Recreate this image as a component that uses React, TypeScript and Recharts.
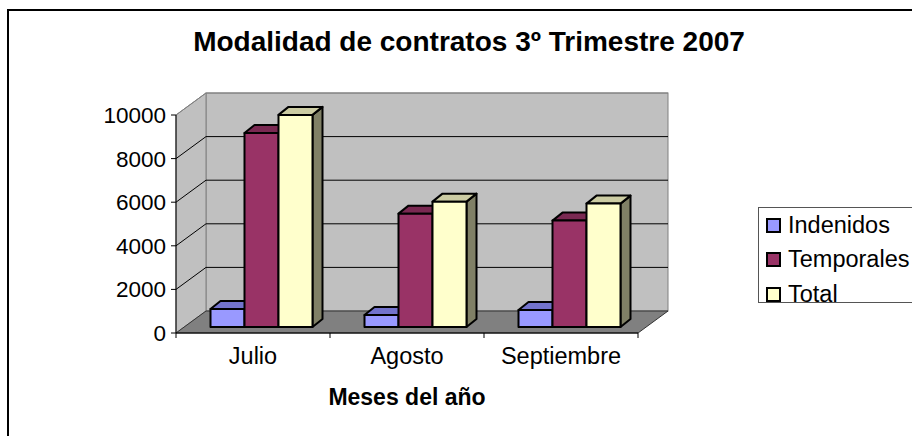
import React from 'react';
import { BarChart, Bar, XAxis, YAxis, CartesianGrid } from 'recharts';

const months = ['Julio', 'Agosto', 'Septiembre'];
const indenidos = [830, 550, 780];
const temporales = [8900, 5200, 4880];
const total = [9730, 5750, 5660];

const seriesKeys = ['indenidos', 'temporales', 'total'];
const seriesNames = ['Indenidos', 'Temporales', 'Total'];
const frontColors = ['#9999FF', '#993366', '#FFFFCC'];
const topColors = ['#7373CC', '#7A2952', '#CCCCA3'];
const sideColors = ['#5C5C99', '#5C1F3D', '#808066'];
const yTicks = [0, 2000, 4000, 6000, 8000, 10000];

const data = months.map((m, i) => ({
  month: m,
  indenidos: indenidos[i],
  temporales: temporales[i],
  total: total[i],
}));

const W = 912;
const H = 436;
// front plane of the plot
const LEFT = 176;
const RIGHT = 638;
const TOP = 115;
const BOTTOM = 333;
// wall depth (oblique projection)
const DX = 30;
const DY = 22;
// bar row sits a bit behind the front plane
const BAR_OX = 8.5;
const BAR_OY = 6;
// bar depth
const BDX = 10;
const BDY = 8;
const FONT = 'Arial, "Liberation Sans", sans-serif';

const Bar3D = (idx: number) => (p: any) => {
  const { x, y, width, height } = p;
  if (height == null || width == null) return <g />;
  const fx = x + BAR_OX;
  const fy = y - BAR_OY;
  const top = `${fx},${fy} ${fx + BDX},${fy - BDY} ${fx + width + BDX},${fy - BDY} ${fx + width},${fy}`;
  const side = `${fx + width},${fy} ${fx + width + BDX},${fy - BDY} ${fx + width + BDX},${fy + height - BDY} ${fx + width},${fy + height}`;
  return (
    <g stroke="#000" strokeWidth={2} strokeLinejoin="round">
      <polygon points={side} fill={sideColors[idx]} />
      <polygon points={top} fill={topColors[idx]} />
      <rect x={fx} y={fy} width={width} height={height} fill={frontColors[idx]} />
    </g>
  );
};

const gridLine = (p: any) => {
  const { x1, x2, y1, index } = p;
  if (Math.abs(y1 - BOTTOM) < 1) return <g key={`g${index}`} />;
  const stroke = Math.abs(y1 - TOP) < 1 ? '#808080' : '#000';
  return (
    <g key={`g${index}`} stroke={stroke} strokeWidth={1}>
      <line x1={x1} y1={y1} x2={x1 + DX} y2={y1 - DY} />
      <line x1={x1 + DX} y1={y1 - DY} x2={x2 + DX} y2={y1 - DY} />
    </g>
  );
};

const MonthTick = (p: any) => {
  const { x, payload, index } = p;
  const band = (RIGHT - LEFT) / months.length;
  return (
    <g>
      <line x1={x - band / 2} y1={BOTTOM} x2={x - band / 2} y2={BOTTOM + 5} stroke="#000" />
      {index === months.length - 1 && (
        <line x1={x + band / 2} y1={BOTTOM} x2={x + band / 2} y2={BOTTOM + 5} stroke="#000" />
      )}
      <text x={x} y={BOTTOM + 31} textAnchor="middle" fontSize={23.5} fontFamily={FONT} fill="#000">
        {payload.value}
      </text>
    </g>
  );
};

export default function App() {
  return (
    <div style={{ position: 'absolute', left: 0, top: 0, width: W, height: H, background: '#fff', overflow: 'hidden' }}>
      <svg width={W} height={H} style={{ position: 'absolute', left: 0, top: 0 }}>
        <rect x={8} y={10} width={940} height={460} fill="#fff" stroke="#000" strokeWidth={2} />
        <text x={469} y={51} textAnchor="middle" fontSize={28} fontWeight="bold" fontFamily={FONT} fill="#000">
          Modalidad de contratos 3º Trimestre 2007
        </text>
        {/* back wall */}
        <rect x={LEFT + DX} y={TOP - DY} width={RIGHT - LEFT} height={BOTTOM - TOP} fill="#C0C0C0" stroke="#808080" />
        {/* side wall */}
        <polygon
          points={`${LEFT},${TOP} ${LEFT + DX},${TOP - DY} ${LEFT + DX},${BOTTOM - DY} ${LEFT},${BOTTOM}`}
          fill="#C0C0C0"
          stroke="#808080"
        />
        {/* floor */}
        <polygon
          points={`${LEFT},${BOTTOM} ${LEFT + DX},${BOTTOM - DY} ${RIGHT + DX},${BOTTOM - DY} ${RIGHT},${BOTTOM}`}
          fill="#808080"
          stroke="#333"
        />
      </svg>
      <div style={{ position: 'absolute', left: 0, top: 0 }}>
        <BarChart
          width={W}
          height={H}
          data={data}
          margin={{ top: TOP, right: W - RIGHT, bottom: H - BOTTOM - 80, left: LEFT - 70 }}
          barSize={34}
          barGap={0}
        >
          <CartesianGrid horizontal={gridLine} vertical={false} />
          <XAxis
            dataKey="month"
            height={80}
            axisLine={{ stroke: '#000', strokeWidth: 1 }}
            tickLine={false}
            tick={<MonthTick />}
            interval={0}
            label={{
              value: 'Meses del año',
              position: 'insideBottom',
              offset: 8,
              style: { fill: '#000', fontSize: 23, fontWeight: 'bold', fontFamily: FONT },
            }}
          />
          <YAxis
            width={70}
            domain={[0, 10000]}
            ticks={yTicks}
            interval={0}
            axisLine={{ stroke: '#000', strokeWidth: 1 }}
            tickLine={{ stroke: '#000' }}
            tickSize={5}
            tickMargin={5}
            tick={{ fill: '#000', fontSize: 22.5, fontFamily: FONT }}
          />
          {seriesKeys.map((k, i) => (
            <Bar
              key={k}
              dataKey={k}
              name={seriesNames[i]}
              fill={frontColors[i]}
              shape={Bar3D(i)}
              isAnimationActive={false}
            />
          ))}
        </BarChart>
      </div>
      <div
        style={{
          position: 'absolute',
          left: 758,
          top: 207,
          width: 170,
          height: 94,
          border: '1px solid #555',
          background: '#fff',
          fontFamily: FONT,
          fontSize: 23.5,
          color: '#000',
        }}
      >
        {seriesNames.map((n, i) => (
          <div key={n} style={{ position: 'absolute', left: 7, top: 2 + i * 34.5, height: 30, display: 'flex', alignItems: 'center' }}>
            <span
              style={{
                display: 'inline-block',
                width: 11,
                height: 11,
                border: '2px solid #000',
                background: frontColors[i],
                marginRight: 7,
              }}
            />
            <span>{n}</span>
          </div>
        ))}
      </div>
    </div>
  );
}
